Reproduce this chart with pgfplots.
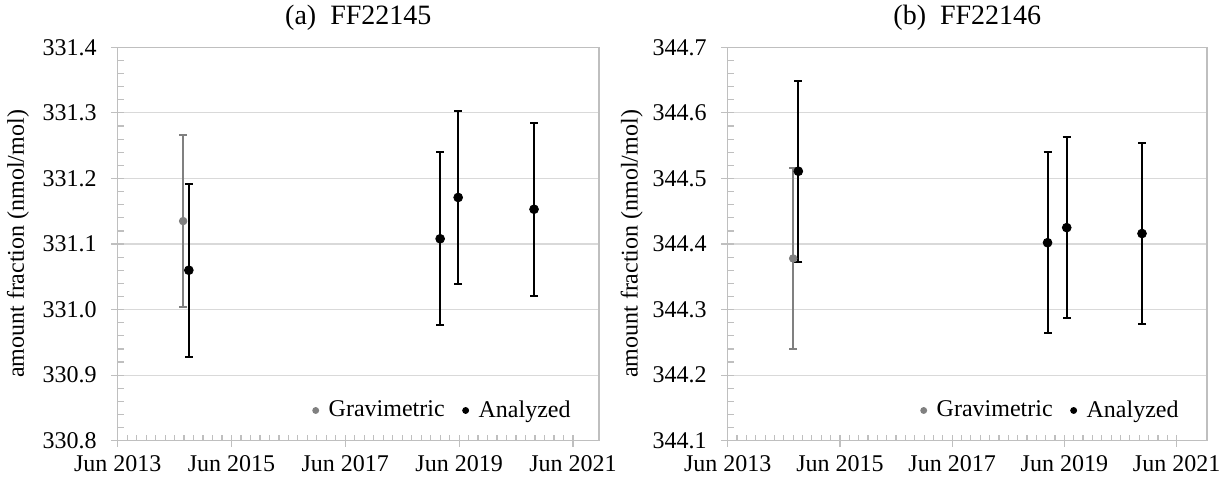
\documentclass[border=0pt]{standalone}
\usepackage{fontspec}
\setmainfont{Liberation Serif}
\usepackage{pgfplots}
\usepackage{pgfplotstable}
\pgfplotsset{compat=1.18}
\definecolor{axgray}{RGB}{191,191,191}
\definecolor{gridgray}{RGB}{217,217,217}
\definecolor{gravgray}{RGB}{128,128,128}

\pgfplotstableread{
x y ey
13.8 331.135 0.131
}\gravA
\pgfplotstableread{
x y ey
15.0 331.060 0.132
68.0 331.108 0.132
71.8 331.171 0.132
87.8 331.153 0.132
}\anaA
\pgfplotstableread{
x y ey
14.0 344.378 0.138
}\gravB
\pgfplotstableread{
x y ey
15.1 344.511 0.138
68.4 344.402 0.138
72.5 344.425 0.138
88.6 344.416 0.138
}\anaB

\pgfplotsset{
 mystyle/.style={
  scale only axis, anchor=south west, clip=false,
  axis line style={axgray, line width=0.6pt},
  tick style={axgray, line width=0.6pt},
  tick align=inside, tick pos=left,
  major tick length=3pt, minor tick length=3pt,
  xtick={0,24,48,72,96},
  xticklabels={Jun 2013,Jun 2015,Jun 2017,Jun 2019,Jun 2021},
  minor x tick num=11,
  minor y tick num=4,
  ymajorgrids, major grid style={gridgray, line width=0.6pt},
  xmin=0,
  scaled y ticks=false,
  /pgf/number format/assume math mode=true,
  tick label style={font=\fontsize{12}{14}\selectfont, text=black},
  yticklabel style={/pgf/number format/.cd, fixed, fixed zerofill, precision=1, /tikz/.cd, xshift=-7pt},
  xticklabel style={yshift=-4pt},
  label style={font=\fontsize{12}{14}\selectfont},
  title style={font=\fontsize{14}{16}\selectfont, at={(0.5,1)}, anchor=center, yshift=9pt},
  legend style={draw=none, fill=none, at={(1,0)}, anchor=south east, xshift=-9pt, yshift=6pt,
    font=\fontsize{12}{14}\selectfont, legend columns=2,
    /tikz/every odd column/.append style={column sep=3pt},
    /tikz/every even column/.append style={column sep=7pt}},
  legend image code/.code={\draw[#1, mark size=1.5pt] plot coordinates {(0cm,0cm)};},
  ana/.style={only marks, mark=*, mark size=2.2pt, black,
    error bars/.cd, y dir=both, y explicit,
    error bar style={line width=1pt, black},
    error mark options={rotate=90, mark size=2pt, line width=1pt, black}},
  grav/.style={only marks, mark=*, mark size=1.9pt, gravgray,
    error bars/.cd, y dir=both, y explicit,
    error bar style={line width=0.8pt, gravgray},
    error mark options={rotate=90, mark size=2pt, line width=0.8pt, gravgray}},
 }
}

\begin{document}
\begin{tikzpicture}
\useasboundingbox (0,0) rectangle (613pt,239.5pt);
\begin{axis}[mystyle,
  at={(58.85pt,19.15pt)}, width=240.65pt, height=196.7pt,
  xmax=101.5, ymin=330.8, ymax=331.4,
  ytick={330.8,330.9,331.0,331.1,331.2,331.3,331.4},
  title={(a)\ \ FF22145},
  ylabel={amount fraction (nmol/mol)},
  ylabel style={at={(axis description cs:-0.207,0.5)}, anchor=center},
]
\addplot[grav] table[x=x, y=y, y error=ey] {\gravA};
\addlegendentry{Gravimetric}
\addplot[ana] table[x=x, y=y, y error=ey] {\anaA};
\addlegendentry{Analyzed}
\pgfplotsinvokeforeach{0,24,48,72,96}{\draw[axgray,line width=0.6pt] (axis cs:#1,330.8) -- ++(0pt,-3pt);}
\pgfplotsinvokeforeach{330.8,330.9,331.0,331.1,331.2,331.3,331.4}{\draw[axgray,line width=0.6pt] (axis cs:0,#1) -- ++(-3.5pt,0pt);}
\end{axis}
\begin{axis}[mystyle,
  at={(363.85pt,19.15pt)}, width=239.65pt, height=196.7pt,
  xmax=102.5, ymin=344.1, ymax=344.7,
  ytick={344.1,344.2,344.3,344.4,344.5,344.6,344.7},
  title={(b)\ \ FF22146},
  ylabel={amount fraction (nmol/mol)},
  ylabel style={at={(axis description cs:-0.2,0.5)}, anchor=center},
]
\addplot[grav] table[x=x, y=y, y error=ey] {\gravB};
\addlegendentry{Gravimetric}
\addplot[ana] table[x=x, y=y, y error=ey] {\anaB};
\addlegendentry{Analyzed}
\pgfplotsinvokeforeach{0,24,48,72,96}{\draw[axgray,line width=0.6pt] (axis cs:#1,344.1) -- ++(0pt,-3pt);}
\pgfplotsinvokeforeach{344.1,344.2,344.3,344.4,344.5,344.6,344.7}{\draw[axgray,line width=0.6pt] (axis cs:0,#1) -- ++(-3.5pt,0pt);}
\end{axis}
\end{tikzpicture}
\end{document}
